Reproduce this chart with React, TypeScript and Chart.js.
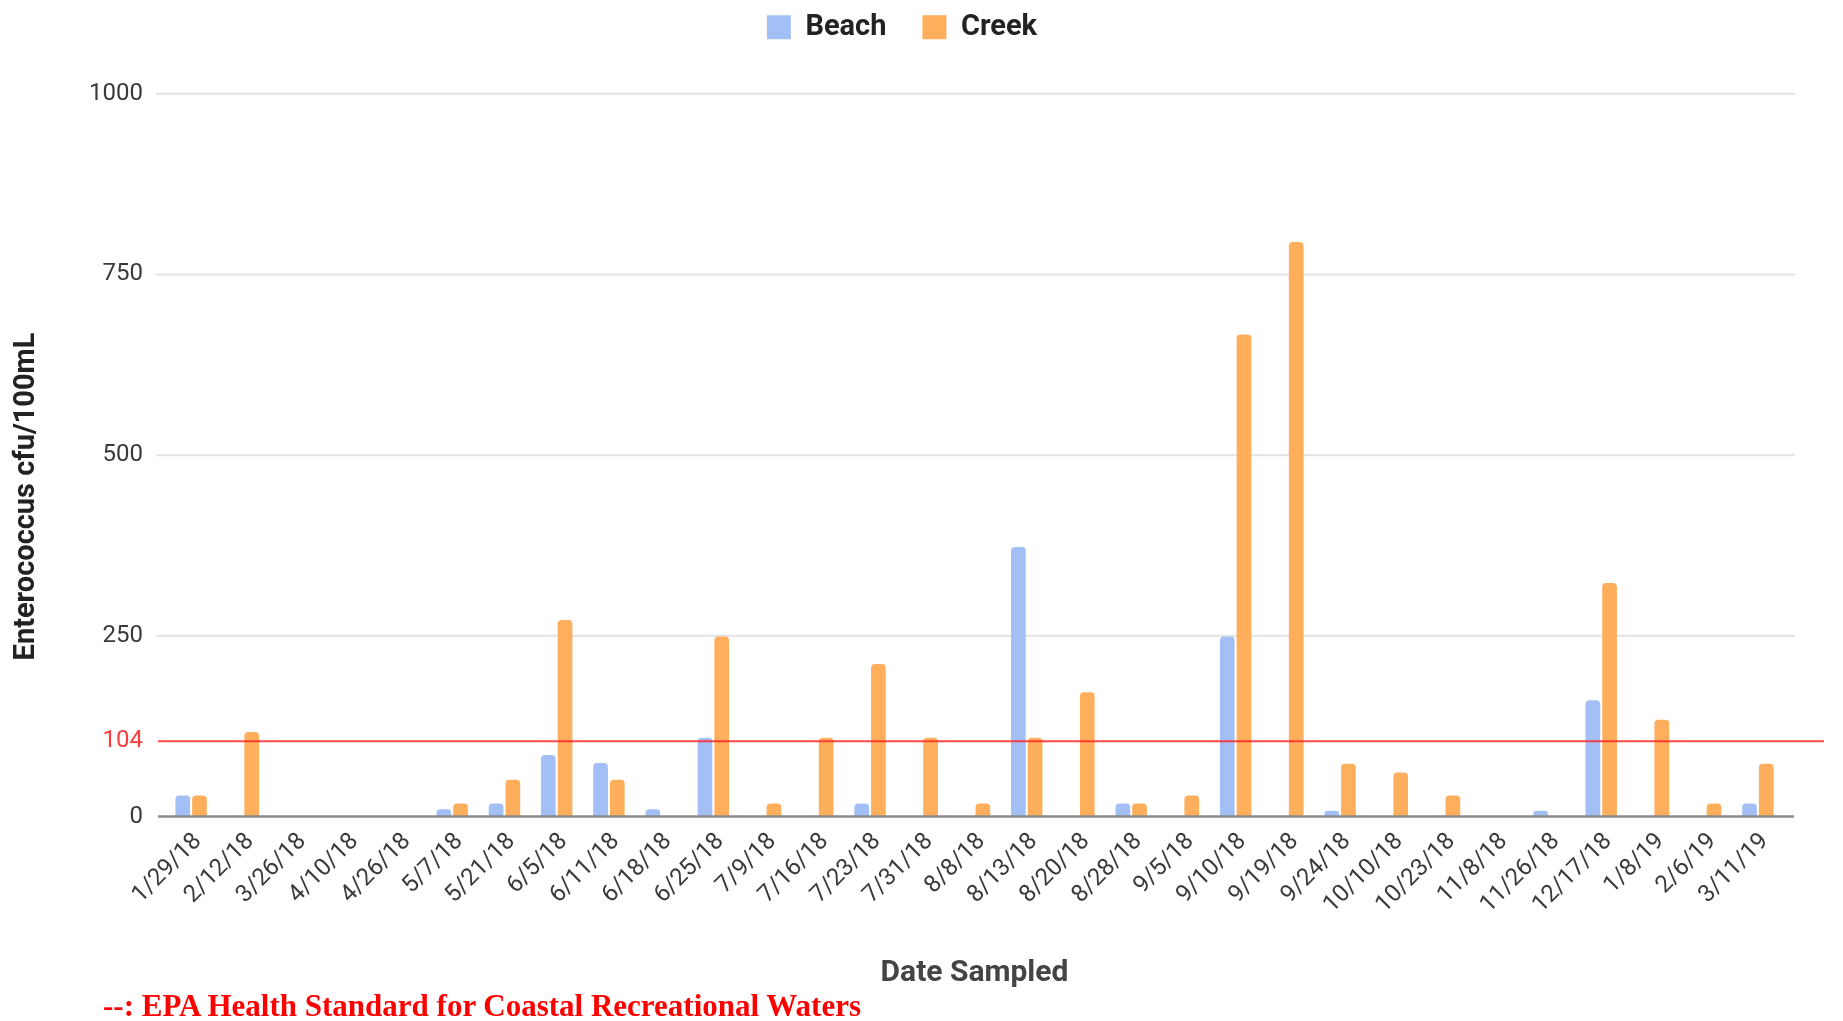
import React, { useEffect, useRef } from "react";
import { Chart, registerables } from "chart.js";

Chart.register(...registerables);

const categories = [
  "1/29/18", "2/12/18", "3/26/18", "4/10/18", "4/26/18", "5/7/18", "5/21/18", "6/5/18",
  "6/11/18", "6/18/18", "6/25/18", "7/9/18", "7/16/18", "7/23/18", "7/31/18", "8/8/18",
  "8/13/18", "8/20/18", "8/28/18", "9/5/18", "9/10/18", "9/19/18", "9/24/18", "10/10/18",
  "10/23/18", "11/8/18", "11/26/18", "12/17/18", "1/8/19", "2/6/19", "3/11/19",
];

const beachValues: (number | null)[] = [
  29, null, null, null, null, 10, 18, 85, 74, 10, 109, null, null, 18, null, null,
  373, null, 18, null, 249, null, 8, null, null, null, 8, 161, null, null, 18,
];

const creekValues: (number | null)[] = [
  29, 117, null, null, null, 18, 51, 272, 51, null, 249, 18, 109, 211, 109, 18,
  109, 172, 18, 29, 667, 795, 73, 61, 29, null, null, 323, 134, 18, 73,
];

const yTicks = [0, 250, 500, 750, 1000];
const epaStandard = 104;

const seriesNames = ["Beach", "Creek"];
const seriesColors = ["#a2c0f5", "#ffae5c"];

const yTitle = "Enterococcus cfu/100mL";
const xTitle = "Date Sampled";
const noteText = "--: EPA Health Standard for Coastal Recreational Waters";

export default function App() {
  const canvasRef = useRef<HTMLCanvasElement | null>(null);

  useEffect(() => {
    const canvas = canvasRef.current;
    if (!canvas) return;

    const legendGap = {
      id: "legendGap",
      beforeLayout(chart: any) {
        const lg = chart.legend;
        if (lg && !lg._gapPatched) {
          const orig = lg.fit;
          lg.fit = function () {
            orig.call(this);
            this.height += 42;
          };
          lg._gapPatched = true;
        }
      },
    };

    const gridPlugin = {
      id: "customGrid",
      beforeDatasetsDraw(chart: any) {
        const { ctx, chartArea, scales } = chart;
        const y = scales.y;
        ctx.save();
        yTicks.forEach((v) => {
          if (v === 0) return;
          const py = y.getPixelForValue(v);
          ctx.strokeStyle = "#e3e3e3";
          ctx.lineWidth = 2;
          ctx.beginPath();
          ctx.moveTo(chartArea.left - 9, py);
          ctx.lineTo(chartArea.right + 11, py);
          ctx.stroke();
        });
        ctx.restore();
      },
      afterDatasetsDraw(chart: any) {
        const { ctx, chartArea, scales } = chart;
        const y = scales.y;
        ctx.save();
        const p0 = y.getPixelForValue(0);
        ctx.strokeStyle = "#8a8a8a";
        ctx.lineWidth = 2.5;
        ctx.beginPath();
        ctx.moveTo(chartArea.left - 7, p0);
        ctx.lineTo(chartArea.right + 10, p0);
        ctx.stroke();

        const pe = y.getPixelForValue(epaStandard);
        ctx.strokeStyle = "rgba(255,40,40,0.85)";
        ctx.lineWidth = 2;
        ctx.beginPath();
        ctx.moveTo(chartArea.left - 7, pe);
        ctx.lineTo(chartArea.right + 40, pe);
        ctx.stroke();
        ctx.restore();
      },
      afterDraw(chart: any) {
        const { ctx } = chart;
        ctx.save();
        ctx.translate(27, 496.5);
        ctx.rotate(-Math.PI / 2);
        ctx.font = "bold 29px Roboto";
        ctx.fillStyle = "#222";
        ctx.textAlign = "center";
        ctx.textBaseline = "middle";
        ctx.fillText(yTitle, 0, 0);
        ctx.restore();
      },
    };

    const chart = new Chart(canvas, {
      type: "bar",
      data: {
        labels: categories,
        datasets: [
          {
            label: seriesNames[0],
            data: beachValues,
            backgroundColor: seriesColors[0],
            borderWidth: 0,
            borderRadius: { topLeft: 4, topRight: 4, bottomLeft: 0, bottomRight: 0 },
            borderSkipped: "start",
          },
          {
            label: seriesNames[1],
            data: creekValues,
            backgroundColor: seriesColors[1],
            borderWidth: 0,
            borderRadius: { topLeft: 4, topRight: 4, bottomLeft: 0, bottomRight: 0 },
            borderSkipped: "start",
          },
        ],
      },
      options: {
        responsive: false,
        animation: false,
        datasets: {
          bar: { categoryPercentage: 0.64, barPercentage: 0.88 },
        },
        layout: { padding: { top: -23.2, left: 20, right: 59, bottom: 20 } },
        plugins: {
          legend: {
            position: "top",
            labels: {
              font: { family: "Roboto", size: 29, weight: "bold" },
              color: "#222",
              boxWidth: 24,
              boxHeight: 24,
              padding: 36,
            },
          },
          tooltip: { enabled: false },
        },
        scales: {
          x: {
            grid: { display: false },
            border: { display: false },
            ticks: {
              autoSkip: false,
              maxRotation: 45,
              minRotation: 45,
              padding: 3,
              labelOffset: 7,
              font: { family: "Roboto", size: 24 },
              color: "#3a3a3a",
            },
            title: {
              display: true,
              text: xTitle,
              font: { family: "Roboto", size: 30, weight: "bold" },
              color: "#444",
              padding: { top: 0, bottom: 9.5 },
            },
            afterFit: (s: any) => {
              s.height = 184.5;
            },
          },
          y: {
            min: 0,
            max: 1000,
            grid: { display: false },
            border: { display: false },
            afterBuildTicks: (s: any) => {
              const vals = [...yTicks, epaStandard].sort((a, b) => a - b);
              s.ticks = vals.map((v) => ({ value: v }));
            },
            ticks: {
              padding: 14,
              font: { family: "Roboto", size: 24 },
              color: (c: any) => (c.tick && c.tick.value === epaStandard ? "#ff3b3b" : "#3a3a3a"),
              callback: (v: any) => String(v),
            },
            afterFit: (s: any) => {
              s.width = 145;
            },
          },
        },
      },
      plugins: [legendGap, gridPlugin],
    });

    return () => chart.destroy();
  }, []);

  return (
    <div style={{ position: "absolute", left: 0, top: 0, width: 1843, height: 1021, background: "#fff" }}>
      <canvas ref={canvasRef} width={1843} height={1021} style={{ width: 1843, height: 1021, display: "block" }} />
      <div
        style={{
          position: "absolute",
          left: 103,
          top: 988,
          fontFamily: "'Liberation Serif', 'Times New Roman', serif",
          fontWeight: "bold",
          fontSize: 31,
          lineHeight: "36px",
          color: "#ff0000",
          whiteSpace: "nowrap",
        }}
      >
        {noteText}
      </div>
    </div>
  );
}
